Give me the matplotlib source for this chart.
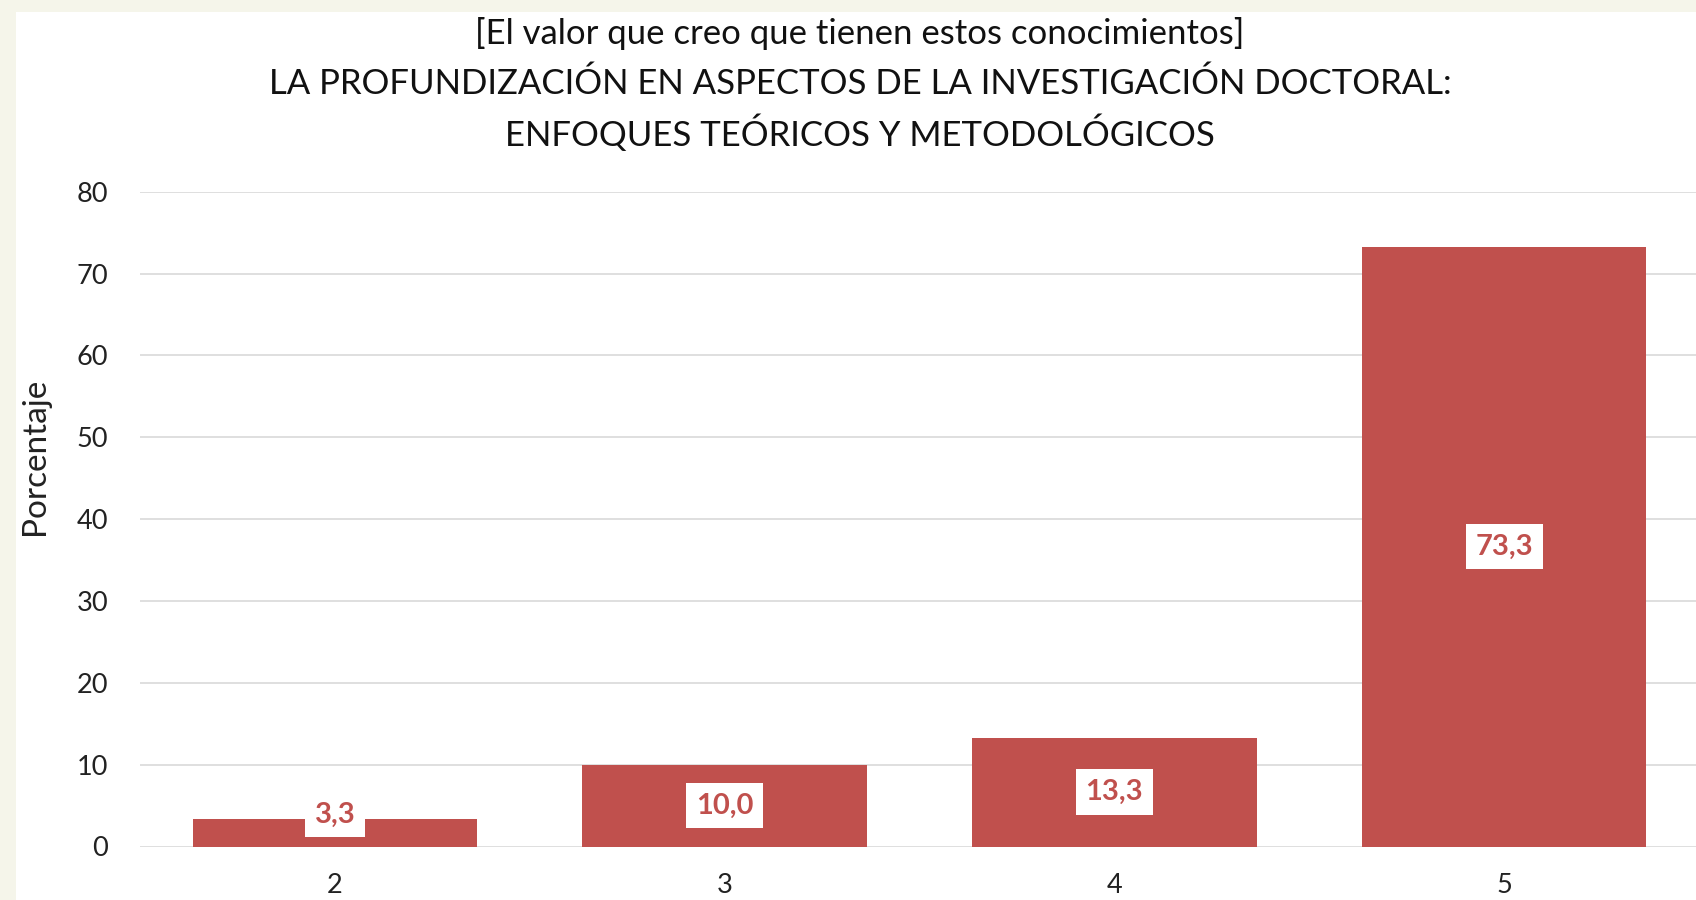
import numpy as np
import matplotlib.pyplot as plt
from matplotlib.patches import Rectangle

# Datos del grafico
categorias = ['2', '3', '4', '5']
porcentajes = [3.3, 10.0, 13.3, 73.3]
etiquetas = ['3,3', '10,0', '13,3', '73,3']
titulo = ['[El valor que creo que tienen estos conocimientos]',
          'LA PROFUNDIZACIÓN EN ASPECTOS DE LA INVESTIGACIÓN DOCTORAL:',
          'ENFOQUES TEÓRICOS Y METODOLÓGICOS']
yticks = [0, 10, 20, 30, 40, 50, 60, 70, 80]

rojo = '#c0504d'
plt.rcParams['font.family'] = ['Lato', 'DejaVu Sans']

W, H = 1696, 900
fig = plt.figure(figsize=(W / 100, H / 100), dpi=100, facecolor='#f5f5ea')
fig.patches.append(Rectangle((16 / W, 0), 1, 1 - 12 / H, transform=fig.transFigure,
                             facecolor='white', edgecolor='none', zorder=-10))

# axes: left 140px, right ~1699px, bottom 846.5px, top 191.7px
ax = fig.add_axes([140 / W, (H - 846.5) / H, (1699 - 140) / W, (846.5 - 191.7) / H])
ax.patch.set_alpha(0)

x = np.arange(len(categorias))
bars = ax.bar(x, porcentajes, width=0.73, color=rojo, zorder=3)

ax.set_xlim(-0.5, len(categorias) - 0.5)
ax.set_ylim(0, 80)
ax.set_yticks(yticks)
ax.set_xticks(x)
ax.set_xticklabels(categorias)
ax.tick_params(axis='both', length=0, labelsize=19.5, colors='#222222')
ax.tick_params(axis='y', pad=23)
ax.tick_params(axis='x', pad=19)
ax.grid(axis='y', color='#d9d9d9', linewidth=1.2, zorder=0)
for s in ax.spines.values():
    s.set_visible(False)

ax.set_ylabel('Porcentaje', fontsize=24, color='#222222')
ax.yaxis.set_label_coords(-(140 - 50) / (1699 - 140), (846.5 - 456) / (846.5 - 191.7))

# etiquetas de datos, centradas en la barra (la pequeña se sube un poco)
for b, v, t in zip(bars, porcentajes, etiquetas):
    yc = max(v / 2, 3.9)
    ax.text(b.get_x() + b.get_width() / 2, yc, t, ha='center', va='center',
            fontsize=21, fontweight='bold', color=rojo, zorder=5,
            bbox=dict(boxstyle='square,pad=0.33', facecolor='white', edgecolor='none'))

for i, linea in enumerate(titulo):
    fig.text(860 / W, 1 - (33.5 + 49.8 * i) / H, linea, ha='center', va='center',
             fontsize=25, color='#111111')

fig.savefig('out.png', dpi=100, facecolor=fig.get_facecolor())
